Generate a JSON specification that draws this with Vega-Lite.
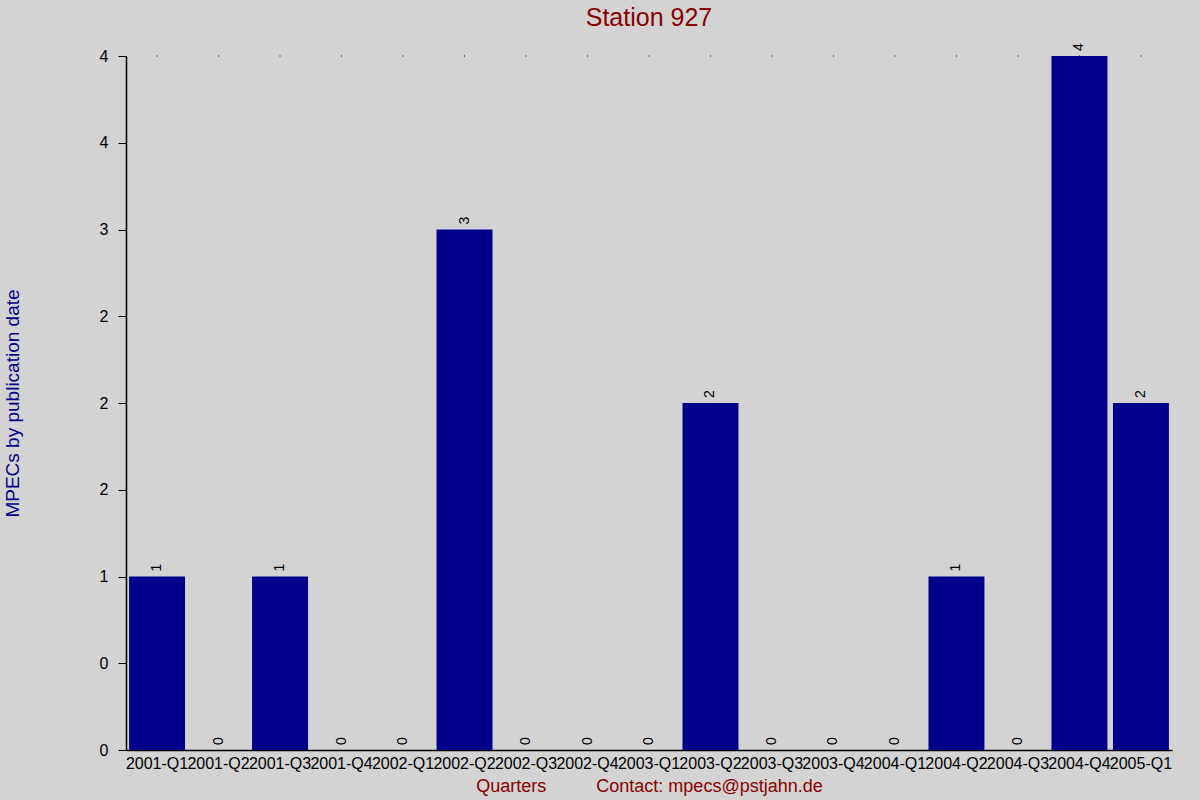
{
  "$schema": "https://vega.github.io/schema/vega-lite/v6.json",
  "width": 1046,
  "height": 694,
  "autosize": {"type": "none"},
  "padding": {"left": 126, "top": 56, "right": 28, "bottom": 50},
  "background": "#d3d3d3",
  "title": {
    "text": "Station 927",
    "fontSize": 25,
    "fontWeight": "normal",
    "color": "#8b0000",
    "anchor": "middle",
    "offset": 12
  },
  "data": {
    "values": [
      {"quarter": "2001-Q1", "count": 1},
      {"quarter": "2001-Q2", "count": 0},
      {"quarter": "2001-Q3", "count": 1},
      {"quarter": "2001-Q4", "count": 0},
      {"quarter": "2002-Q1", "count": 0},
      {"quarter": "2002-Q2", "count": 3},
      {"quarter": "2002-Q3", "count": 0},
      {"quarter": "2002-Q4", "count": 0},
      {"quarter": "2003-Q1", "count": 0},
      {"quarter": "2003-Q2", "count": 2},
      {"quarter": "2003-Q3", "count": 0},
      {"quarter": "2003-Q4", "count": 0},
      {"quarter": "2004-Q1", "count": 0},
      {"quarter": "2004-Q2", "count": 1},
      {"quarter": "2004-Q3", "count": 0},
      {"quarter": "2004-Q4", "count": 4},
      {"quarter": "2005-Q1", "count": 2}
    ]
  },
  "encoding": {
    "x": {
      "field": "quarter",
      "type": "nominal",
      "sort": null,
      "scale": {"paddingInner": 0.09, "paddingOuter": 0.05},
      "axis": {
        "title": "Quarters\u00a0\u00a0\u00a0\u00a0\u00a0\u00a0\u00a0\u00a0\u00a0\u00a0Contact: mpecs@pstjahn.de",
        "titleColor": "#8b0000",
        "titleFontSize": 18,
        "titleFontWeight": "normal",
        "titlePadding": 6,
        "labelAngle": 0,
        "labelFontSize": 16,
        "labelColor": "black",
        "labelPadding": 5,
        "labelOverlap": false,
        "labelLimit": 0,
        "ticks": false,
        "domainColor": "black",
        "domainWidth": 1.5,
        "grid": false
      }
    }
  },
  "layer": [
    {
      "mark": {"type": "bar", "color": "#00008b"},
      "encoding": {
        "y": {
          "field": "count",
          "type": "quantitative",
          "scale": {"domain": [0, 4], "nice": false},
          "axis": {
            "title": "MPECs by publication date",
            "titleColor": "#00008b",
            "titleFontSize": 19,
            "titleFontWeight": "normal",
            "titlePadding": 77,
            "values": [0, 0.5, 1, 1.5, 2, 2.5, 3, 3.5, 4],
            "labelExpr": "['0','0','1','2','2','2','3','4','4'][datum.value * 2]",
            "labelFontSize": 16,
            "labelColor": "black",
            "labelPadding": 10,
            "tickSize": 8,
            "tickColor": "black",
            "domainColor": "black",
            "domainWidth": 1.5,
            "grid": false
          }
        }
      }
    },
    {
      "mark": {"type": "text", "angle": 270, "align": "left", "baseline": "middle", "dx": 5, "fontSize": 14, "color": "black"},
      "encoding": {
        "y": {"field": "count", "type": "quantitative"},
        "text": {"field": "count", "type": "quantitative"}
      }
    },
    {
      "mark": {"type": "square", "size": 1, "color": "black", "opacity": 1},
      "encoding": {
        "y": {"datum": 4, "type": "quantitative"}
      }
    }
  ],
  "config": {
    "font": "Liberation Sans",
    "view": {"stroke": null}
  }
}
